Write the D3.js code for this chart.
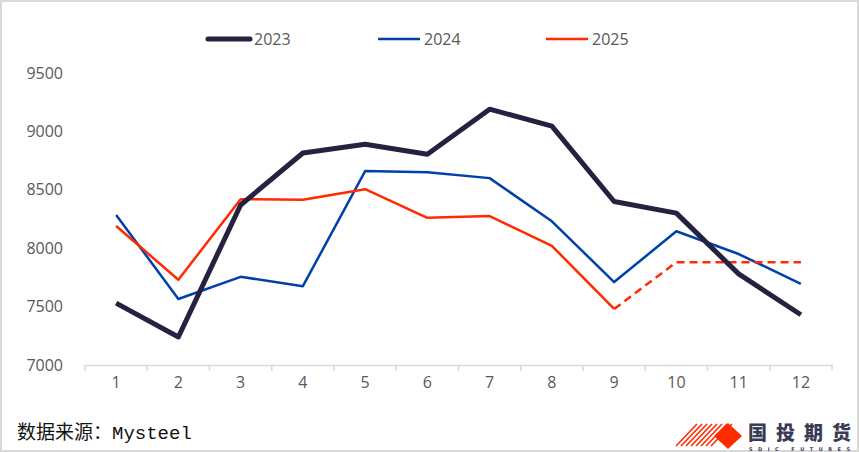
<!DOCTYPE html>
<html><head><meta charset="utf-8">
<script src="https://cdn.jsdelivr.net/npm/d3@7"></script>
<style>body{margin:0;background:#fff}svg{display:block}</style>
</head><body>
<svg id="c" width="859" height="452"></svg>
<script>
const months = ["1","2","3","4","5","6","7","8","9","10","11","12"];
const yTicks = [7000,7500,8000,8500,9000,9500];
const s2023 = [7530,7240,8370,8815,8890,8805,9190,9045,8400,8300,7780,7430];
const s2024 = [8285,7565,7755,7675,8660,8650,8600,8230,7710,8145,7950,7695];
const s2025 = [8190,7730,8420,8415,8505,8260,8275,8020,7480,null,null,null];
const s2025f = [null,null,null,null,null,null,null,null,7480,7880,7880,7880];
const seriesNames = ["2023","2024","2025"];
const colors = ["#252140","#0040AC","#FF2A00"];

const svg = d3.select("#c");
svg.append("rect").attr("x",1).attr("y",1).attr("width",857).attr("height",450)
  .attr("fill","#fff").attr("stroke","#d9d9d9").attr("stroke-width",2);

const x = d3.scaleBand().domain(months).range([85,832]);
const y = d3.scaleLinear().domain([7000,9500]).range([365,73]);
const FONT = "'Open Sans', 'Liberation Sans', sans-serif";

// y labels
svg.append("g").selectAll("text").data(yTicks).join("text")
  .attr("x",63).attr("y",d=>y(d)).attr("dy","0.35em").attr("text-anchor","end")
  .attr("font-family",FONT).attr("font-size",16).attr("fill","#595959")
  .text(d=>d);

// x axis
const xa = svg.append("g").attr("transform","translate(0,365)")
  .call(d3.axisBottom(x).tickSizeOuter(0).tickSize(0).tickPadding(12));
xa.select(".domain").attr("stroke","#d9d9d9").attr("stroke-width",1.5);
xa.selectAll("text").attr("font-family",FONT).attr("font-size",16).attr("fill","#595959");
const bounds = months.map(m=>x(m)).concat([x.range()[1]]);
svg.append("g").selectAll("line").data(bounds).join("line")
  .attr("x1",d=>d).attr("x2",d=>d).attr("y1",365).attr("y2",371)
  .attr("stroke","#d9d9d9").attr("stroke-width",1.5);

const cx = m => x(m)+x.bandwidth()/2;
const line = d3.line().defined(d=>d[1]!=null).x(d=>cx(d[0])).y(d=>y(d[1]));
const z = arr => months.map((m,i)=>[m,arr[i]]);

svg.append("path").attr("d",line(z(s2024))).attr("fill","none").attr("stroke",colors[1]).attr("stroke-width",2.5).attr("stroke-linejoin","round");
svg.append("path").attr("d",line(z(s2025))).attr("fill","none").attr("stroke",colors[2]).attr("stroke-width",2.5).attr("stroke-linejoin","round");
svg.append("path").attr("d",line(z(s2025f))).attr("fill","none").attr("stroke",colors[2]).attr("stroke-width",2.5).attr("stroke-dasharray","8,5");
svg.append("path").attr("d",line(z(s2023))).attr("fill","none").attr("stroke",colors[0]).attr("stroke-width",5).attr("stroke-linejoin","round");

// legend
const lx = [208,378,546], lw=[5,2.5,2.5];
seriesNames.forEach((n,i)=>{
  svg.append("line").attr("x1",lx[i]).attr("x2",lx[i]+42).attr("y1",39).attr("y2",39)
    .attr("stroke",colors[i]).attr("stroke-width",lw[i]).attr("stroke-linecap",i==0?"round":"butt");
  svg.append("text").attr("x",lx[i]+46).attr("y",39).attr("dy","0.35em")
    .attr("font-family",FONT).attr("font-size",16).attr("fill","#595959").text(n);
});

// source
const src = svg.append("text").attr("x",17).attr("y",439).attr("font-size",19).attr("fill","#111");
src.append("tspan").attr("font-family","'Noto Sans CJK SC', sans-serif").text("数据来源：");
src.append("tspan").attr("font-family","'Liberation Mono', 'DejaVu Sans Mono', monospace").text("Mysteel");

// logo
const lg = svg.append("g");
for(let k=0;k<8;k++){
  lg.append("line").attr("x1",676+k*5).attr("y1",446).attr("x2",697+k*5).attr("y2",424)
    .attr("stroke","#FF2A00").attr("stroke-width",1.6);
}
lg.append("path").attr("d","M714,436 L728,423 L742,436 L728,449 Z").attr("fill","#FF2A00");
lg.append("text").attr("x",748).attr("y",440).attr("font-family","'Noto Sans CJK SC', sans-serif")
  .attr("font-weight",900).attr("font-size",19).attr("textLength",103).attr("fill","#3a3a55").text("国投期货");
lg.append("text").attr("x",749).attr("y",451).attr("font-family","'DejaVu Sans', sans-serif")
  .attr("font-weight",700).attr("font-size",5).attr("textLength",101).attr("fill","#3a3a55").text("SDIC FUTURES");
</script>
</body></html>
